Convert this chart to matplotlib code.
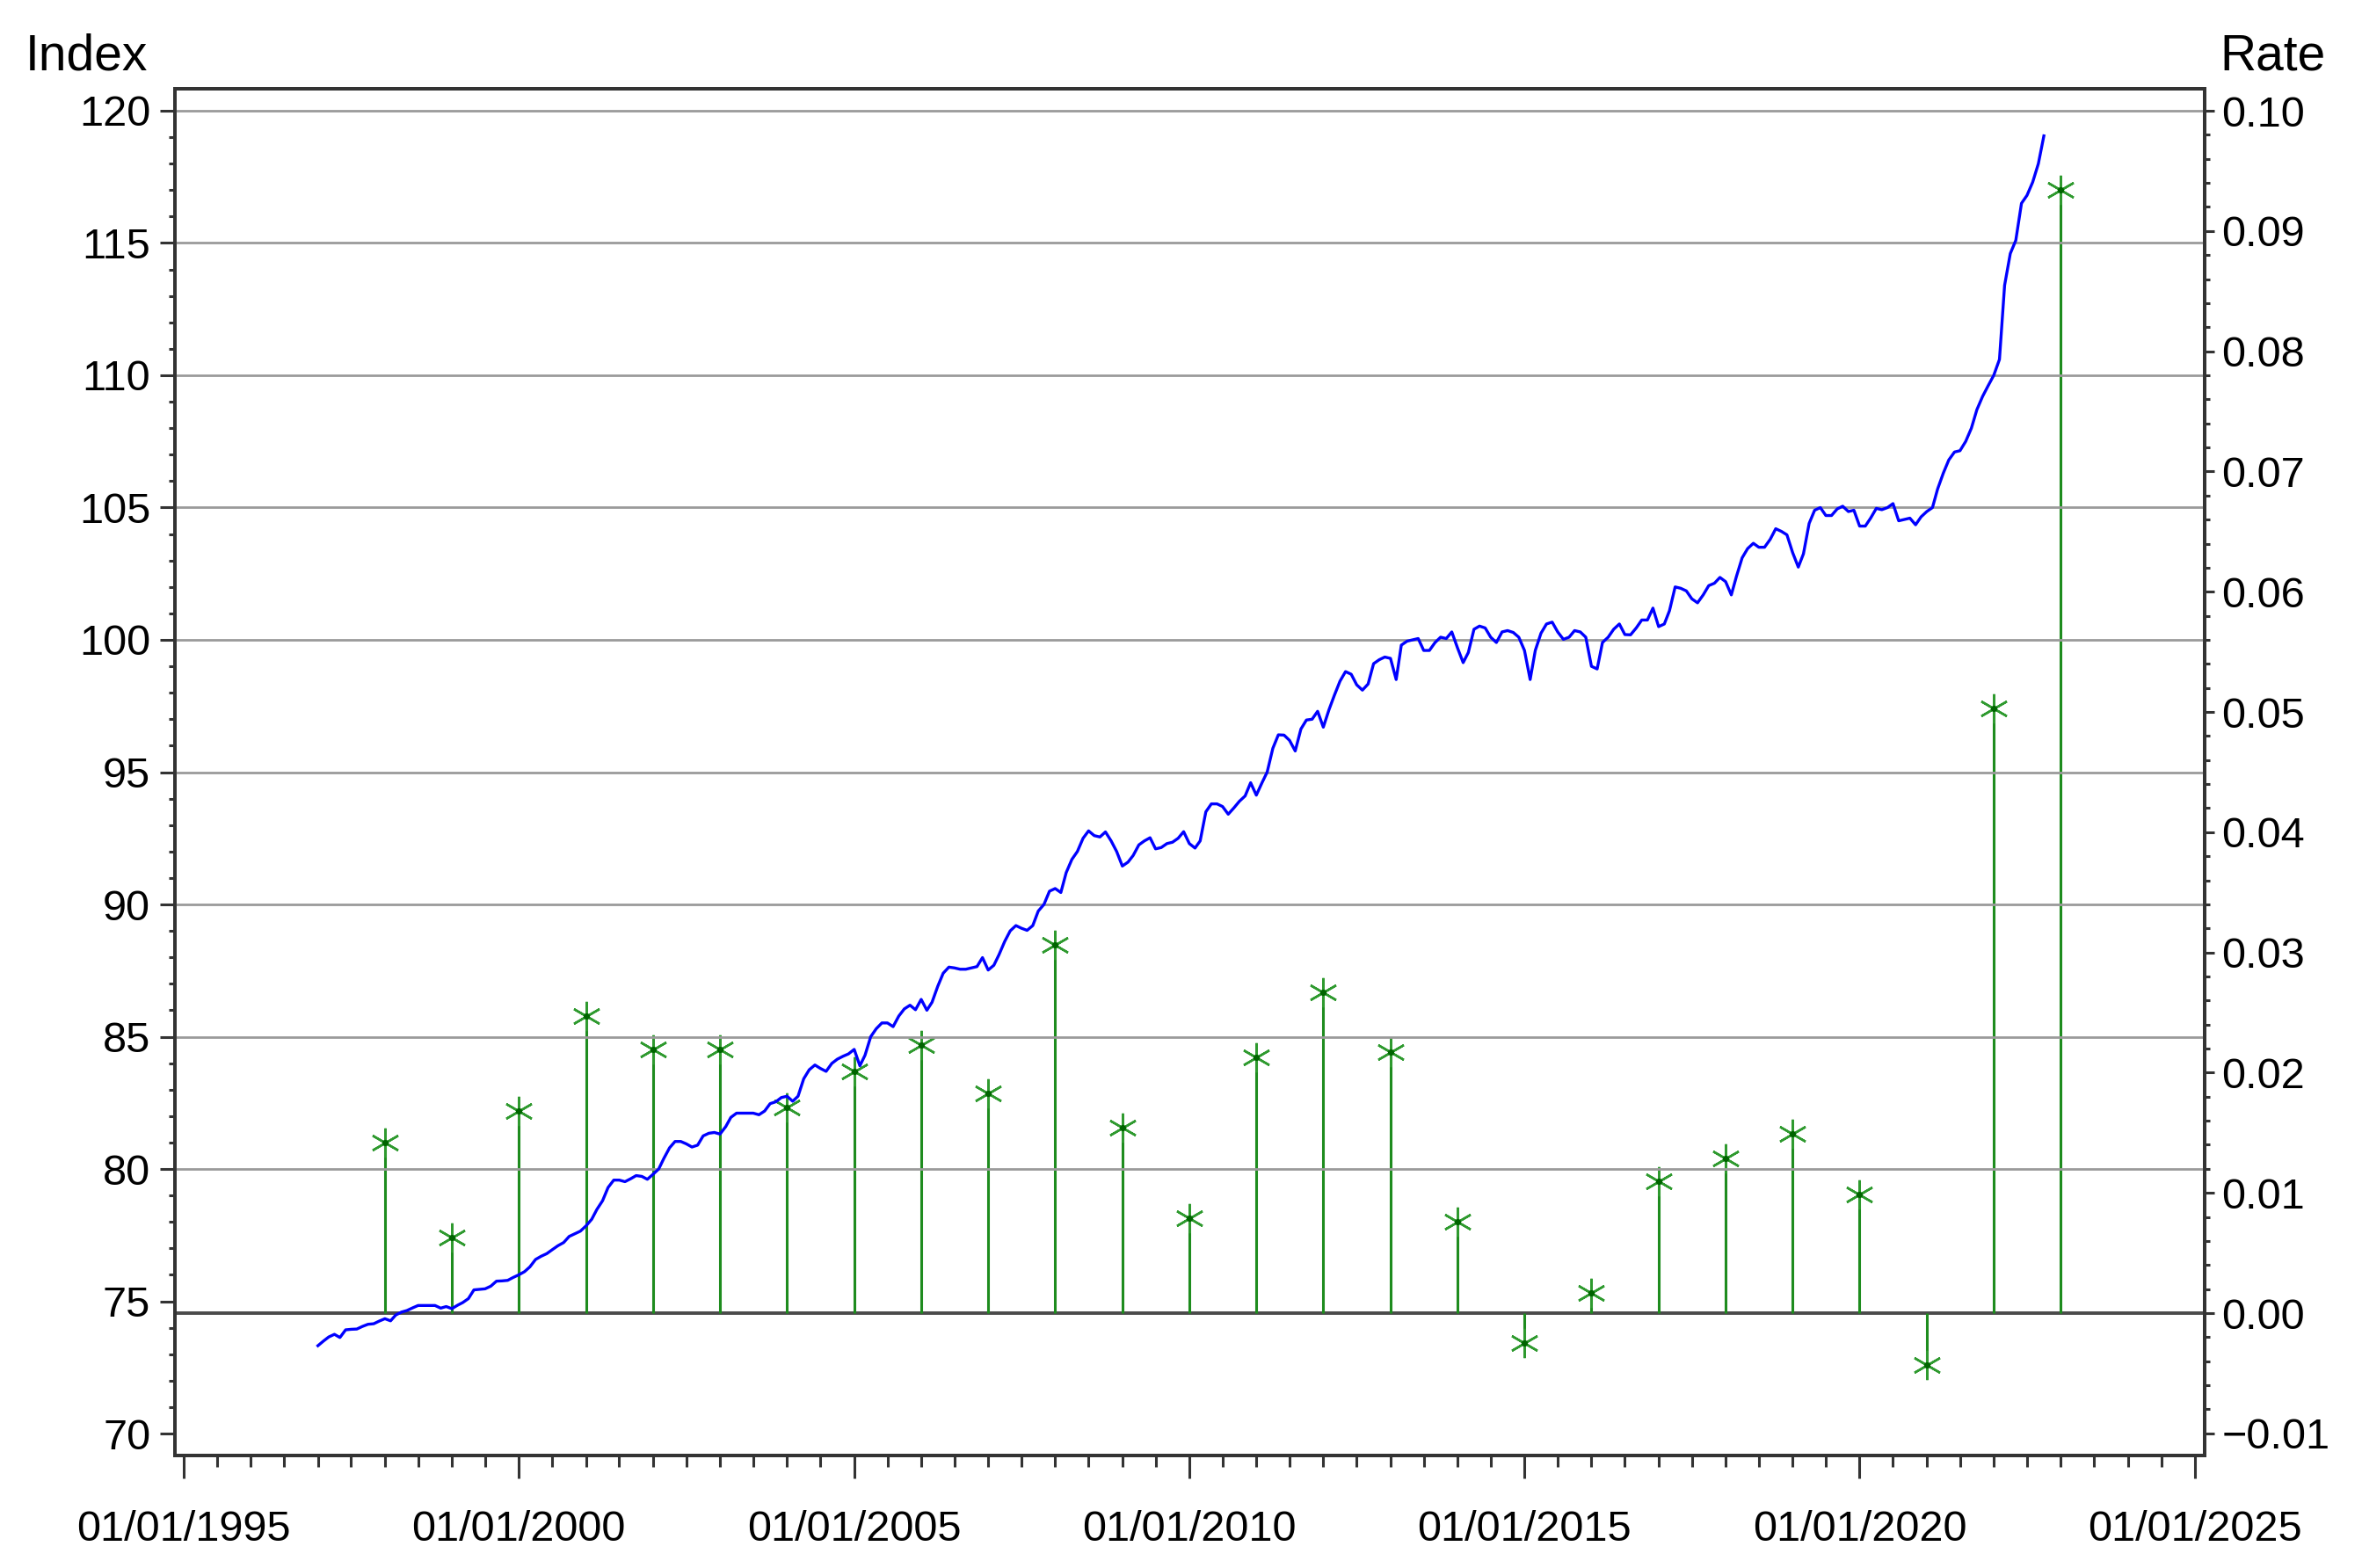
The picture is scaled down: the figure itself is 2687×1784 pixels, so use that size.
import matplotlib
matplotlib.use("Agg")
import matplotlib.pyplot as plt
import matplotlib.dates as mdates
from matplotlib.ticker import MultipleLocator, FixedLocator
import numpy as np
import pandas as pd
import datetime as dt

# ---------------- data ----------------
index_start = "1997-01-01"
index_values = [
    73.32, 73.50, 73.65, 73.75, 73.63, 73.92, 73.94, 73.95, 74.05, 74.13, 74.15, 74.25,
    74.34, 74.26, 74.48, 74.59, 74.65, 74.75, 74.84, 74.84, 74.84, 74.84, 74.74, 74.80,
    74.72, 74.85, 74.95, 75.10, 75.43, 75.45, 75.47, 75.57, 75.76, 75.77, 75.79, 75.90,
    76.00, 76.12, 76.30, 76.58, 76.70, 76.80, 76.95, 77.10, 77.22, 77.45, 77.55, 77.65,
    77.85, 78.10, 78.47, 78.80, 79.30, 79.58, 79.58, 79.52, 79.63, 79.75, 79.72, 79.61,
    79.80, 80.00, 80.40, 80.80, 81.04, 81.04, 80.95, 80.83, 80.90, 81.25, 81.35, 81.38,
    81.32, 81.60, 81.95, 82.11, 82.11, 82.11, 82.11, 82.05, 82.19, 82.47, 82.54, 82.70,
    82.75, 82.56, 82.75, 83.41, 83.75, 83.93, 83.80, 83.69, 83.99, 84.15, 84.26, 84.35,
    84.52, 83.90, 84.30, 85.00, 85.30, 85.52, 85.52, 85.38, 85.78, 86.05, 86.19, 86.02,
    86.41, 86.00, 86.30, 86.90, 87.40, 87.63, 87.60, 87.55, 87.55, 87.60, 87.65, 87.99,
    87.52, 87.70, 88.10, 88.60, 89.00, 89.20, 89.10, 89.02, 89.20, 89.75, 90.00, 90.50,
    90.60, 90.45, 91.20, 91.70, 92.00, 92.50, 92.78, 92.60, 92.55, 92.74, 92.40, 92.00,
    91.45, 91.60, 91.85, 92.25, 92.40, 92.52, 92.10, 92.15, 92.30, 92.35, 92.50, 92.75,
    92.30, 92.13, 92.40, 93.50, 93.80, 93.80, 93.70, 93.41, 93.65, 93.90, 94.10, 94.60,
    94.13, 94.60, 95.00, 95.90, 96.41, 96.40, 96.20, 95.80, 96.63, 96.97, 97.00, 97.30,
    96.70, 97.36, 97.90, 98.44, 98.80, 98.70, 98.30, 98.10, 98.33, 99.10, 99.25, 99.35,
    99.30, 98.50, 99.80, 99.95, 100.00, 100.05, 99.60, 99.60, 99.90, 100.10, 100.05, 100.30,
    99.70, 99.14, 99.52, 100.40, 100.52, 100.45, 100.10, 99.90, 100.30, 100.35, 100.28, 100.10,
    99.60, 98.50, 99.60, 100.25, 100.60, 100.67, 100.30, 100.02, 100.10, 100.35, 100.30, 100.10,
    99.00, 98.90, 99.90, 100.10, 100.40, 100.60, 100.20, 100.19, 100.45, 100.75, 100.75, 101.20,
    100.50, 100.60, 101.10, 102.00, 101.95, 101.85, 101.55, 101.40, 101.70, 102.05, 102.14, 102.36,
    102.20, 101.70, 102.40, 103.10, 103.45, 103.65, 103.50, 103.50, 103.80, 104.20, 104.10, 103.97,
    103.30, 102.75, 103.25, 104.40, 104.90, 105.00, 104.70, 104.70, 104.95, 105.05, 104.85, 104.90,
    104.30, 104.30, 104.60, 104.97, 104.92, 105.00, 105.15, 104.50, 104.55, 104.60, 104.35, 104.65,
    104.85, 105.00, 105.70, 106.30, 106.80, 107.10, 107.15, 107.50, 108.00, 108.70, 109.20, 109.60,
    110.00, 110.60, 113.40, 114.60, 115.10, 116.50, 116.80, 117.30, 118.00, 119.05,
]

rate_years = list(range(1998, 2024))
rate_values = [
    0.0142, 0.0063, 0.0168, 0.0247, 0.0219, 0.0219, 0.0171, 0.0201, 0.0223, 0.0183,
    0.0306, 0.0154, 0.0079, 0.0213, 0.0267, 0.0217, 0.0076, -0.0025, 0.0017, 0.0110,
    0.0129, 0.0149, 0.0099, -0.0043, 0.0503, 0.0934,
]

left_ticks = [70, 75, 80, 85, 90, 95, 100, 105, 110, 115, 120]
grid_levels = [80, 85, 90, 95, 100, 105, 110, 115, 120]
right_ticks = [-0.01, 0.00, 0.01, 0.02, 0.03, 0.04, 0.05, 0.06, 0.07, 0.08, 0.09, 0.10]
right_labels = ["\u22120.01", "0.00", "0.01", "0.02", "0.03", "0.04", "0.05",
                "0.06", "0.07", "0.08", "0.09", "0.10"]
x_major_years = [1995, 2000, 2005, 2010, 2015, 2020, 2025]

# ---------------- style ----------------
FONT = ["Liberation Sans Narrow", "Liberation Sans", "DejaVu Sans"]
plt.rcParams["font.family"] = FONT
BLUE = "#0000ff"
GREEN = "#1e8c1e"
GRID = "#9a9a9a"
DARK = "#333333"
TICK_FS = 17.5

W, H, DPI = 2687, 1784, 200
fig = plt.figure(figsize=(W / DPI, H / DPI), dpi=DPI)
left, right = 199 / W, 2508 / W
bottom, top = 1 - 1656 / H, 1 - 101 / H

# rate axis (primary, drawn first) ; index axis (twin, drawn on top)
axr = fig.add_axes([left, bottom, right - left, top - bottom])
axi = axr.twinx()
axi.patch.set_visible(False)

dates = pd.date_range(index_start, periods=len(index_values), freq="MS")
stem_dates = [dt.datetime(y, 1, 1) for y in rate_years]

# gridlines (index axis levels)
for g in grid_levels:
    axi.axhline(g, color=GRID, lw=1.0, zorder=0)

# baseline at rate 0
axr.axhline(0.0, color="#4a4a4a", lw=1.4, zorder=1)
# stems
axr.vlines(stem_dates, 0, rate_values, color=GREEN, lw=1.1, zorder=2)
axr.plot(stem_dates, rate_values, linestyle="none", marker=(6, 2, 0),
         markersize=12, markeredgewidth=0.9, markeredgecolor="#2f9a2f",
         color="#2f9a2f", zorder=3)
axr.plot(stem_dates, rate_values, linestyle="none", marker="o",
         markersize=2.6, markeredgewidth=0, color="#006400", zorder=4)

# index line
axi.plot(dates, index_values, color=BLUE, lw=1.2, zorder=5)

# limits
x0 = mdates.date2num(dt.datetime(1995, 1, 1)) - 48
x1 = mdates.date2num(dt.datetime(2025, 1, 1)) + 53
axr.set_xlim(x0, x1)
axi.set_ylim(69.17, 120.83)
axr.set_ylim(-0.011842, 0.10183)

# axis sides
axi.yaxis.tick_left()
axi.yaxis.set_label_position("left")
axr.yaxis.tick_right()
axr.yaxis.set_label_position("right")

# index ticks
axi.yaxis.set_major_locator(FixedLocator(left_ticks))
axi.yaxis.set_minor_locator(MultipleLocator(1))
axi.set_yticklabels([str(t) for t in left_ticks])
axi.tick_params(axis="y", which="major", direction="out", length=6, width=1.1,
                labelsize=TICK_FS, pad=4, color=DARK)
axi.tick_params(axis="y", which="minor", direction="out", length=2.6, width=1.1, color=DARK)

# rate ticks
axr.yaxis.set_major_locator(FixedLocator(right_ticks))
axr.yaxis.set_minor_locator(MultipleLocator(0.002))
axr.set_yticklabels(right_labels)
axr.tick_params(axis="y", which="major", direction="out", length=4, width=1.1,
                labelsize=TICK_FS, pad=3, color=DARK)
axr.tick_params(axis="y", which="minor", direction="out", length=2, width=1.1, color=DARK)

# x ticks
maj = [mdates.date2num(dt.datetime(y, 1, 1)) for y in x_major_years]
mino = []
for y in range(1995, 2025):
    mino.append(mdates.date2num(dt.datetime(y, 7, 1)))
    if y % 5 != 0:
        mino.append(mdates.date2num(dt.datetime(y, 1, 1)))
axr.xaxis.set_major_locator(FixedLocator(maj))
axr.xaxis.set_minor_locator(FixedLocator(sorted(mino)))
axr.set_xticklabels([f"01/01/{y}" for y in x_major_years])
axr.tick_params(axis="x", which="major", direction="out", length=9.4, width=1.1,
                labelsize=TICK_FS, pad=13, color=DARK)
axr.tick_params(axis="x", which="minor", direction="out", length=4.7, width=1.1, color=DARK)
axi.tick_params(axis="x", which="both", bottom=False, labelbottom=False)

for ax in (axr, axi):
    for s in ax.spines.values():
        s.set_color(DARK)
        s.set_linewidth(1.4)

# axis titles
fig.text(29 / W, 1 - 79 / H, "Index", fontsize=20.5, ha="left", va="baseline")
fig.text(2646 / W, 1 - 79 / H, "Rate", fontsize=20.5, ha="right", va="baseline")

fig.savefig("out.png", dpi=DPI)
